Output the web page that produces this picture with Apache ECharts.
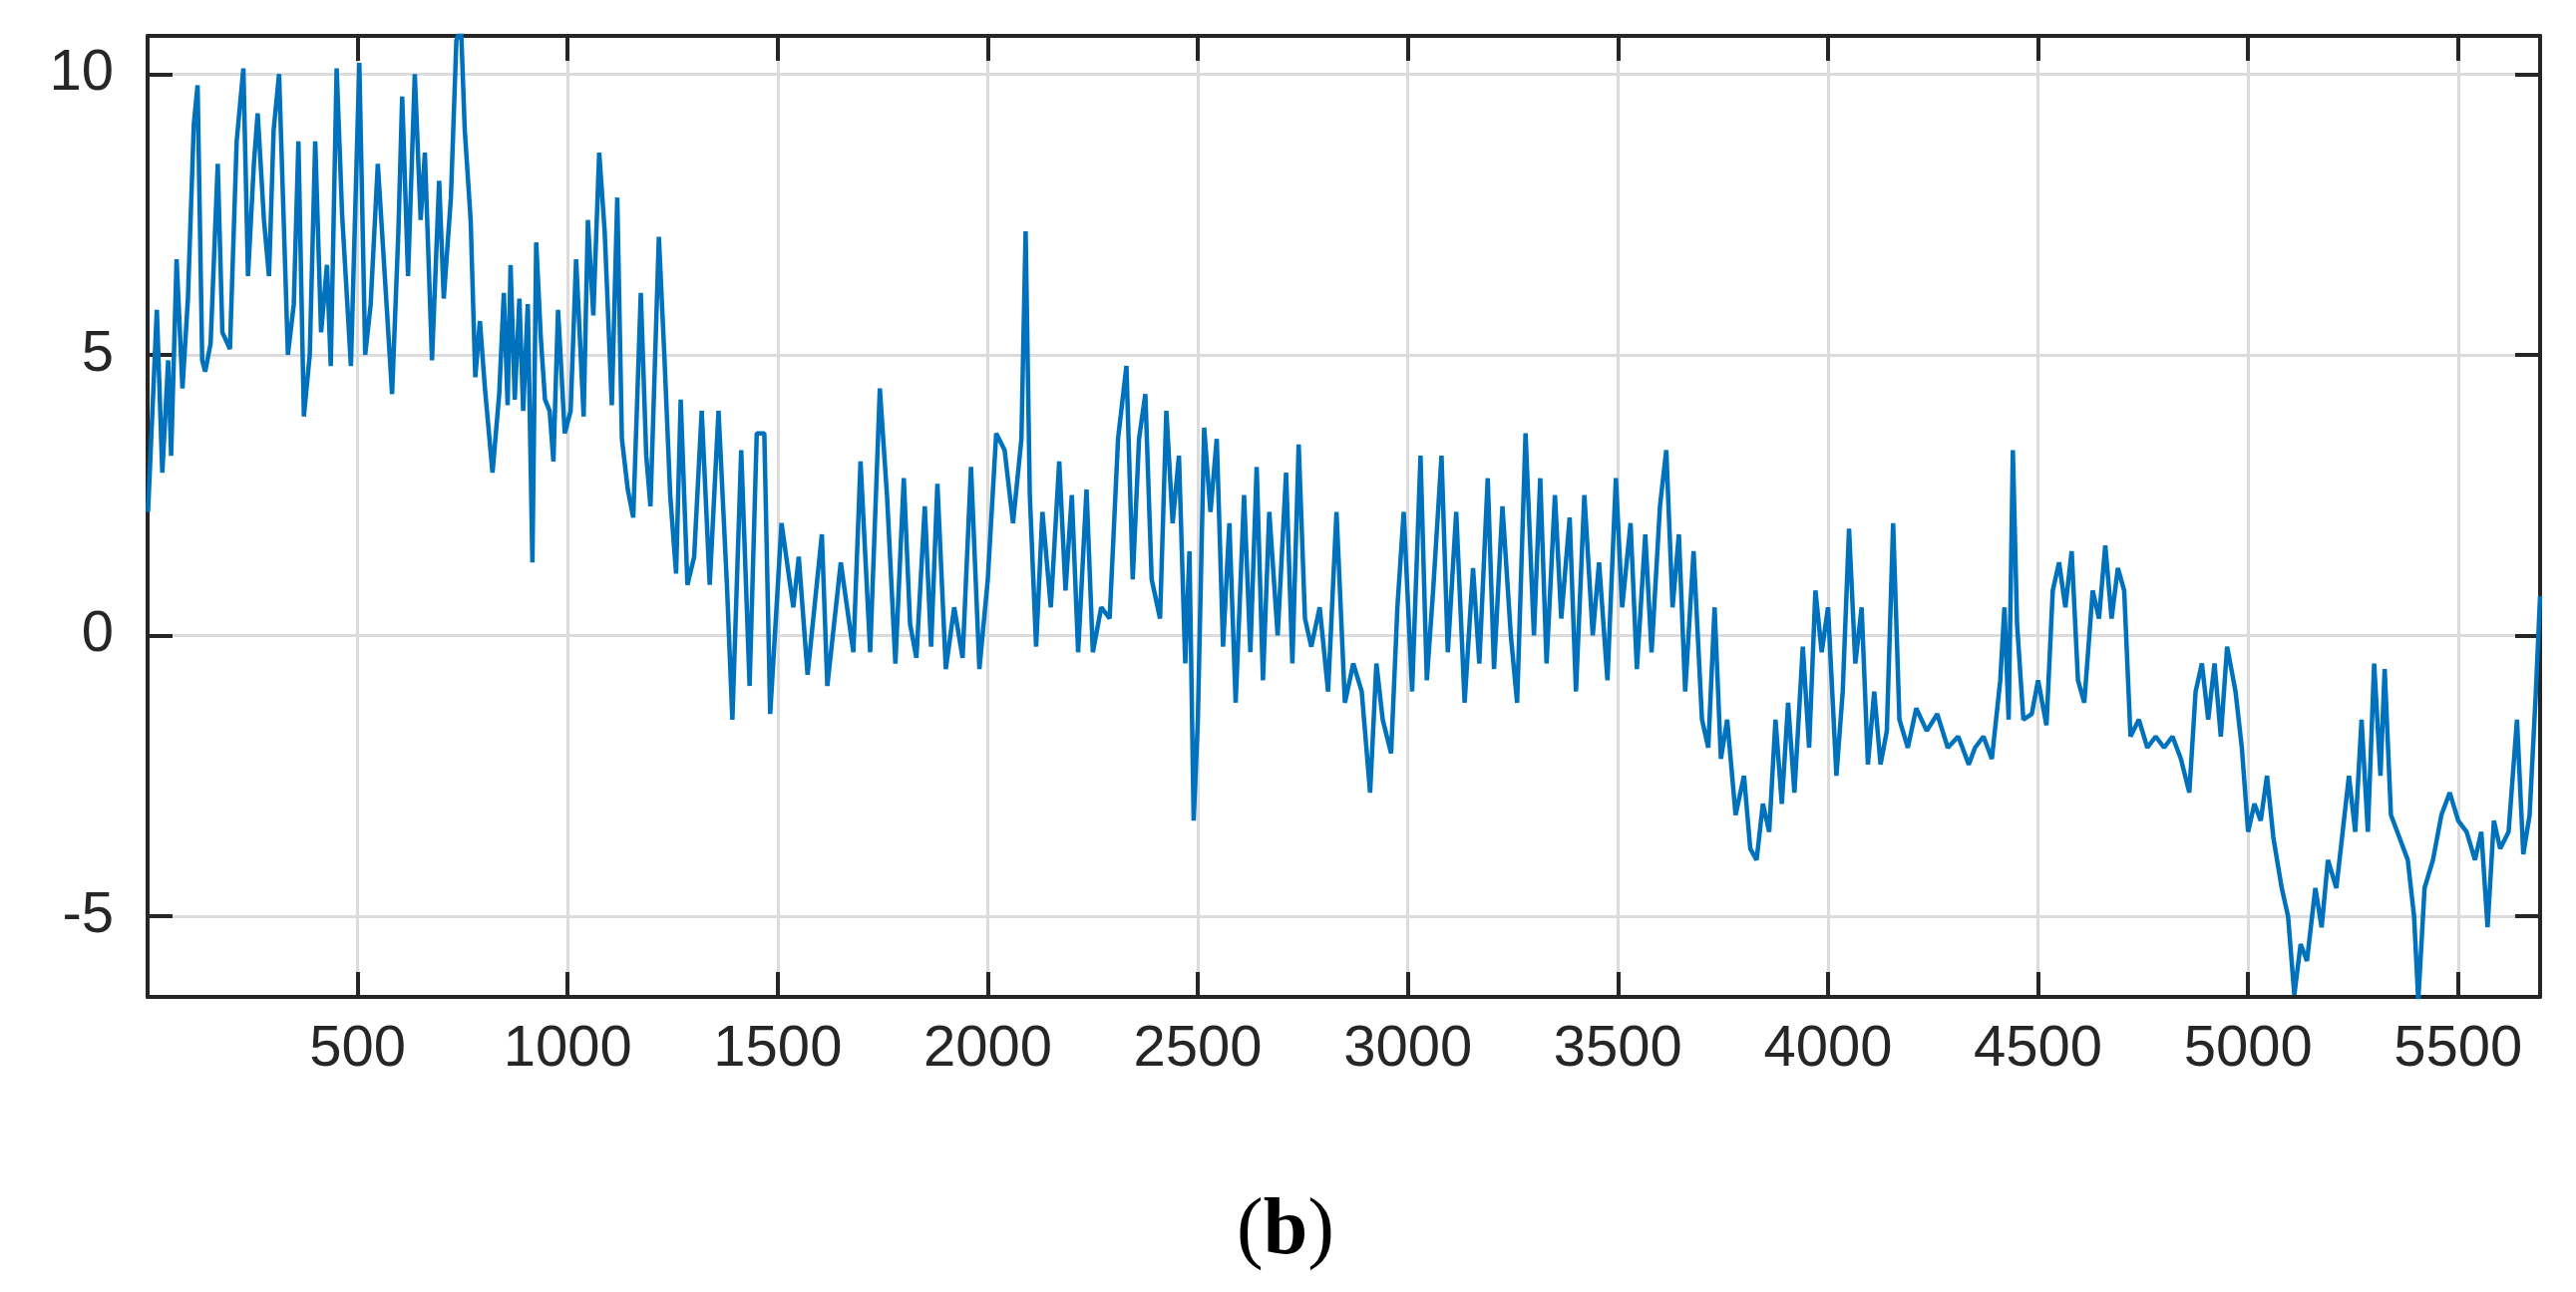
<!DOCTYPE html>
<html>
<head>
<meta charset="utf-8">
<script src="https://cdn.jsdelivr.net/npm/echarts@6/dist/echarts.min.js"></script>
<style>html,body{margin:0;padding:0;background:#fff}#chart{width:2583px;height:1296px}</style>
</head>
<body>
<div id="chart"></div>
<script>
// sample index (x) and signal value (y)
const xs = [1,5,22,35,49,56,69,83,96,110,119,130,137,150,167,178,196,212,228,239,253,262,277,289,300,313,321,334,348,359,372,386,399,413,427,436,450,463,484,504,518,531,548,563,582,597,606,620,636,650,660,677,694,705,722,735,746,755,769,780,791,803,821,837,848,857,864,874,885,894,905,916,925,936,946,957,966,977,993,1007,1020,1038,1048,1061,1075,1088,1105,1118,1129,1143,1156,1174,1187,1197,1217,1230,1244,1258,1269,1285,1301,1319,1338,1359,1379,1392,1413,1433,1450,1468,1482,1509,1537,1550,1571,1605,1618,1650,1680,1697,1720,1743,
  1760,1780,1800,1815,1830,1850,1865,1880,1900,1920,1940,1960,1980,2000,2020,2040,2060,2080,2090,2100,2115,2130,2150,2170,2185,2200,2215,2235,2250,2270,2290,2310,2330,2345,2360,2375,2390,2410,2425,2440,2455,2470,2480,2490,2500,2515,2530,2545,2560,2575,2590,2610,2625,2640,2655,2670,2690,2710,2725,2740,2755,2770,2790,2810,2830,2850,2870,2890,2910,2925,2940,2960,2975,2990,3010,3030,3045,3060,3080,3095,3115,3135,3155,3170,3190,3205,3225,3245,3260,3280,3300,3315,3330,3350,3365,3385,3400,3420,3440,3455,3475,3495,3510,3530,3545,3565,3580,3600,3615,3630,3645,3660,3680,3700,3715,3730,3745,3760,3780,3800,3815,3830,3845,3860,3875,3890,3905,3920,3940,3955,3970,3985,4000,4020,4035,4050,4065,4080,4095,4110,4125,4140,4155,4170,4190,4210,4235,4260,4285,4310,4335,4350,4370,4390,4410,4420,4430,4440,4450,4465,4485,4500,4520,4535,4550,4565,4580,4595,4610,4630,4645,4660,4675,4690,4705,4720,4740,4760,4780,4800,4820,4840,4860,4875,4890,4905,4920,4935,4950,4970,4985,5000,5015,5030,5045,5060,5080,5095,5110,5125,5140,5160,5175,5190,5210,5225,5240,5255,5270,5285,5300,5315,5325,5340,5360,5380,5395,5405,5420,5440,5460,5480,5500,5520,5540,5555,5570,5585,5600,5620,5640,5655,5670,5685,5695];
const ys = [2.2,2.2,5.8,2.9,4.9,3.2,6.7,4.4,6.0,9.1,9.8,4.9,4.7,5.2,8.4,5.4,5.1,8.8,10.1,6.4,8.4,9.3,7.4,6.4,9.0,10.0,8.1,5.0,5.9,8.8,3.9,5.0,8.8,5.4,6.6,4.8,10.1,7.5,4.8,10.2,5.0,5.9,8.4,6.6,4.3,7.2,9.6,6.4,10.0,7.4,8.6,4.9,8.1,6.0,7.8,10.6,10.85,9.0,7.4,4.6,5.6,4.4,2.9,4.3,6.1,4.1,6.6,4.2,6.0,4.0,5.9,1.3,7.0,5.3,4.2,4.0,3.1,5.8,3.6,4.0,6.7,3.9,7.4,5.7,8.6,7.2,4.1,7.8,3.5,2.6,2.1,6.1,3.2,2.3,7.1,5.0,2.5,1.1,4.2,0.9,1.4,4.0,0.9,4.0,0.9,-1.5,3.3,-0.9,3.6,3.6,-1.4,2.0,0.5,1.4,-0.7,1.8,-0.9,1.3,-0.3,3.1,-0.3,4.4,
  2.5,-0.5,2.8,0.2,-0.4,2.3,-0.2,2.7,-0.6,0.5,-0.4,3.0,-0.6,1.0,3.6,3.3,2.0,3.5,7.2,2.5,-0.2,2.2,0.5,3.1,0.8,2.5,-0.3,2.6,-0.3,0.5,0.3,3.5,4.8,1.0,3.5,4.3,1.0,0.3,4.0,2.0,3.2,-0.5,1.5,-3.3,-1.5,3.7,2.2,3.5,-0.2,2.0,-1.2,2.5,-0.3,3.0,-0.8,2.2,0.0,2.9,-0.5,3.4,0.3,-0.2,0.5,-1.0,2.2,-1.2,-0.5,-1.0,-2.8,-0.5,-1.5,-2.1,0.5,2.2,-1.0,3.2,-0.8,0.8,3.2,-0.3,2.2,-1.2,1.2,-0.5,2.8,-0.6,2.3,0.0,-1.2,3.6,0.0,2.8,-0.5,2.5,0.3,2.1,-1.0,2.5,0.0,1.3,-0.8,2.8,0.5,2.0,-0.6,1.8,-0.3,2.3,3.3,0.5,1.8,-1.0,1.5,-1.5,-2.0,0.5,-2.2,-1.5,-3.2,-2.5,-3.8,-4.0,-3.0,-3.5,-1.5,-3.0,-1.2,-2.8,-0.2,-2.0,0.8,-0.3,0.5,-2.5,-1.0,1.9,-0.5,0.5,-2.3,-1.0,-2.3,-1.7,2.0,-1.5,-2.0,-1.3,-1.7,-1.4,-2.0,-1.8,-2.3,-2.0,-1.8,-2.2,-0.8,0.5,-1.5,3.3,0.2,-1.5,-1.4,-0.8,-1.6,0.8,1.3,0.5,1.5,-0.8,-1.2,0.8,0.3,1.6,0.3,1.2,0.8,-1.8,-1.5,-2.0,-1.8,-2.0,-1.8,-2.2,-2.8,-1.0,-0.5,-1.5,-0.5,-1.8,-0.2,-1.0,-2.0,-3.5,-3.0,-3.3,-2.5,-3.6,-4.5,-5.0,-6.4,-5.5,-5.8,-4.5,-5.2,-4.0,-4.5,-3.5,-2.5,-3.5,-1.5,-3.5,-0.5,-2.5,-0.6,-3.2,-3.6,-4.0,-5.0,-6.5,-4.5,-4.0,-3.2,-2.8,-3.3,-3.5,-4.0,-3.5,-5.2,-3.3,-3.8,-3.5,-1.5,-3.9,-3.2,-1.0,0.7];
const xTicks = [500,1000,1500,2000,2500,3000,3500,4000,4500,5000,5500];
const yTicks = [-5,0,5,10];

const chart = echarts.init(document.getElementById('chart'));
const dark = '#262626';
const lbl = { fontFamily: 'Liberation Sans', fontSize: 58, color: dark, formatter: v => String(v) };
const baseX = {
    type: 'value', min: 0, max: 5695,
    axisLine: { onZero: false, lineStyle: { color: dark, width: 4 } },
    axisTick: { inside: true, length: 25, customValues: xTicks, lineStyle: { color: dark, width: 4 } },
    splitLine: { show: false }
};
const baseY = {
    type: 'value', min: -6.44, max: 10.68,
    axisLine: { onZero: false, lineStyle: { color: dark, width: 4 } },
    axisTick: { inside: true, length: 25, customValues: yTicks, lineStyle: { color: dark, width: 4 } },
    splitLine: { show: false }
};
chart.setOption({
    animation: false,
    grid: { left: 148, right: 36, top: 36, bottom: 296 },
    xAxis: [
        Object.assign({}, baseX, { position: 'bottom',
            axisLabel: Object.assign({ customValues: xTicks, margin: 24 }, lbl),
            splitLine: { show: true, lineStyle: { color: '#dcdcdc', width: 3 } } }),
        Object.assign({}, baseX, { position: 'top', axisLabel: { show: false } })
    ],
    yAxis: [
        Object.assign({}, baseY, { position: 'left',
            axisLabel: Object.assign({ customValues: yTicks, margin: 34 }, lbl),
            splitLine: { show: true, lineStyle: { color: '#dcdcdc', width: 3 } } }),
        Object.assign({}, baseY, { position: 'right', axisLabel: { show: false } })
    ],
    series: [{
        type: 'line', showSymbol: false,
        data: xs.map((x, i) => [x, ys[i]]),
        lineStyle: { color: '#0072BD', width: 4.5 }
    }],
    graphic: [{
        type: 'text', left: 1292 - 52, top: 1196,
        style: {
            text: '({b|b})', fontFamily: 'Liberation Serif', fontSize: 80, fill: '#000',
            rich: { b: { fontFamily: 'Liberation Serif', fontSize: 80, fontWeight: 'bold' } }
        }
    }]
});
</script>
</body>
</html>
